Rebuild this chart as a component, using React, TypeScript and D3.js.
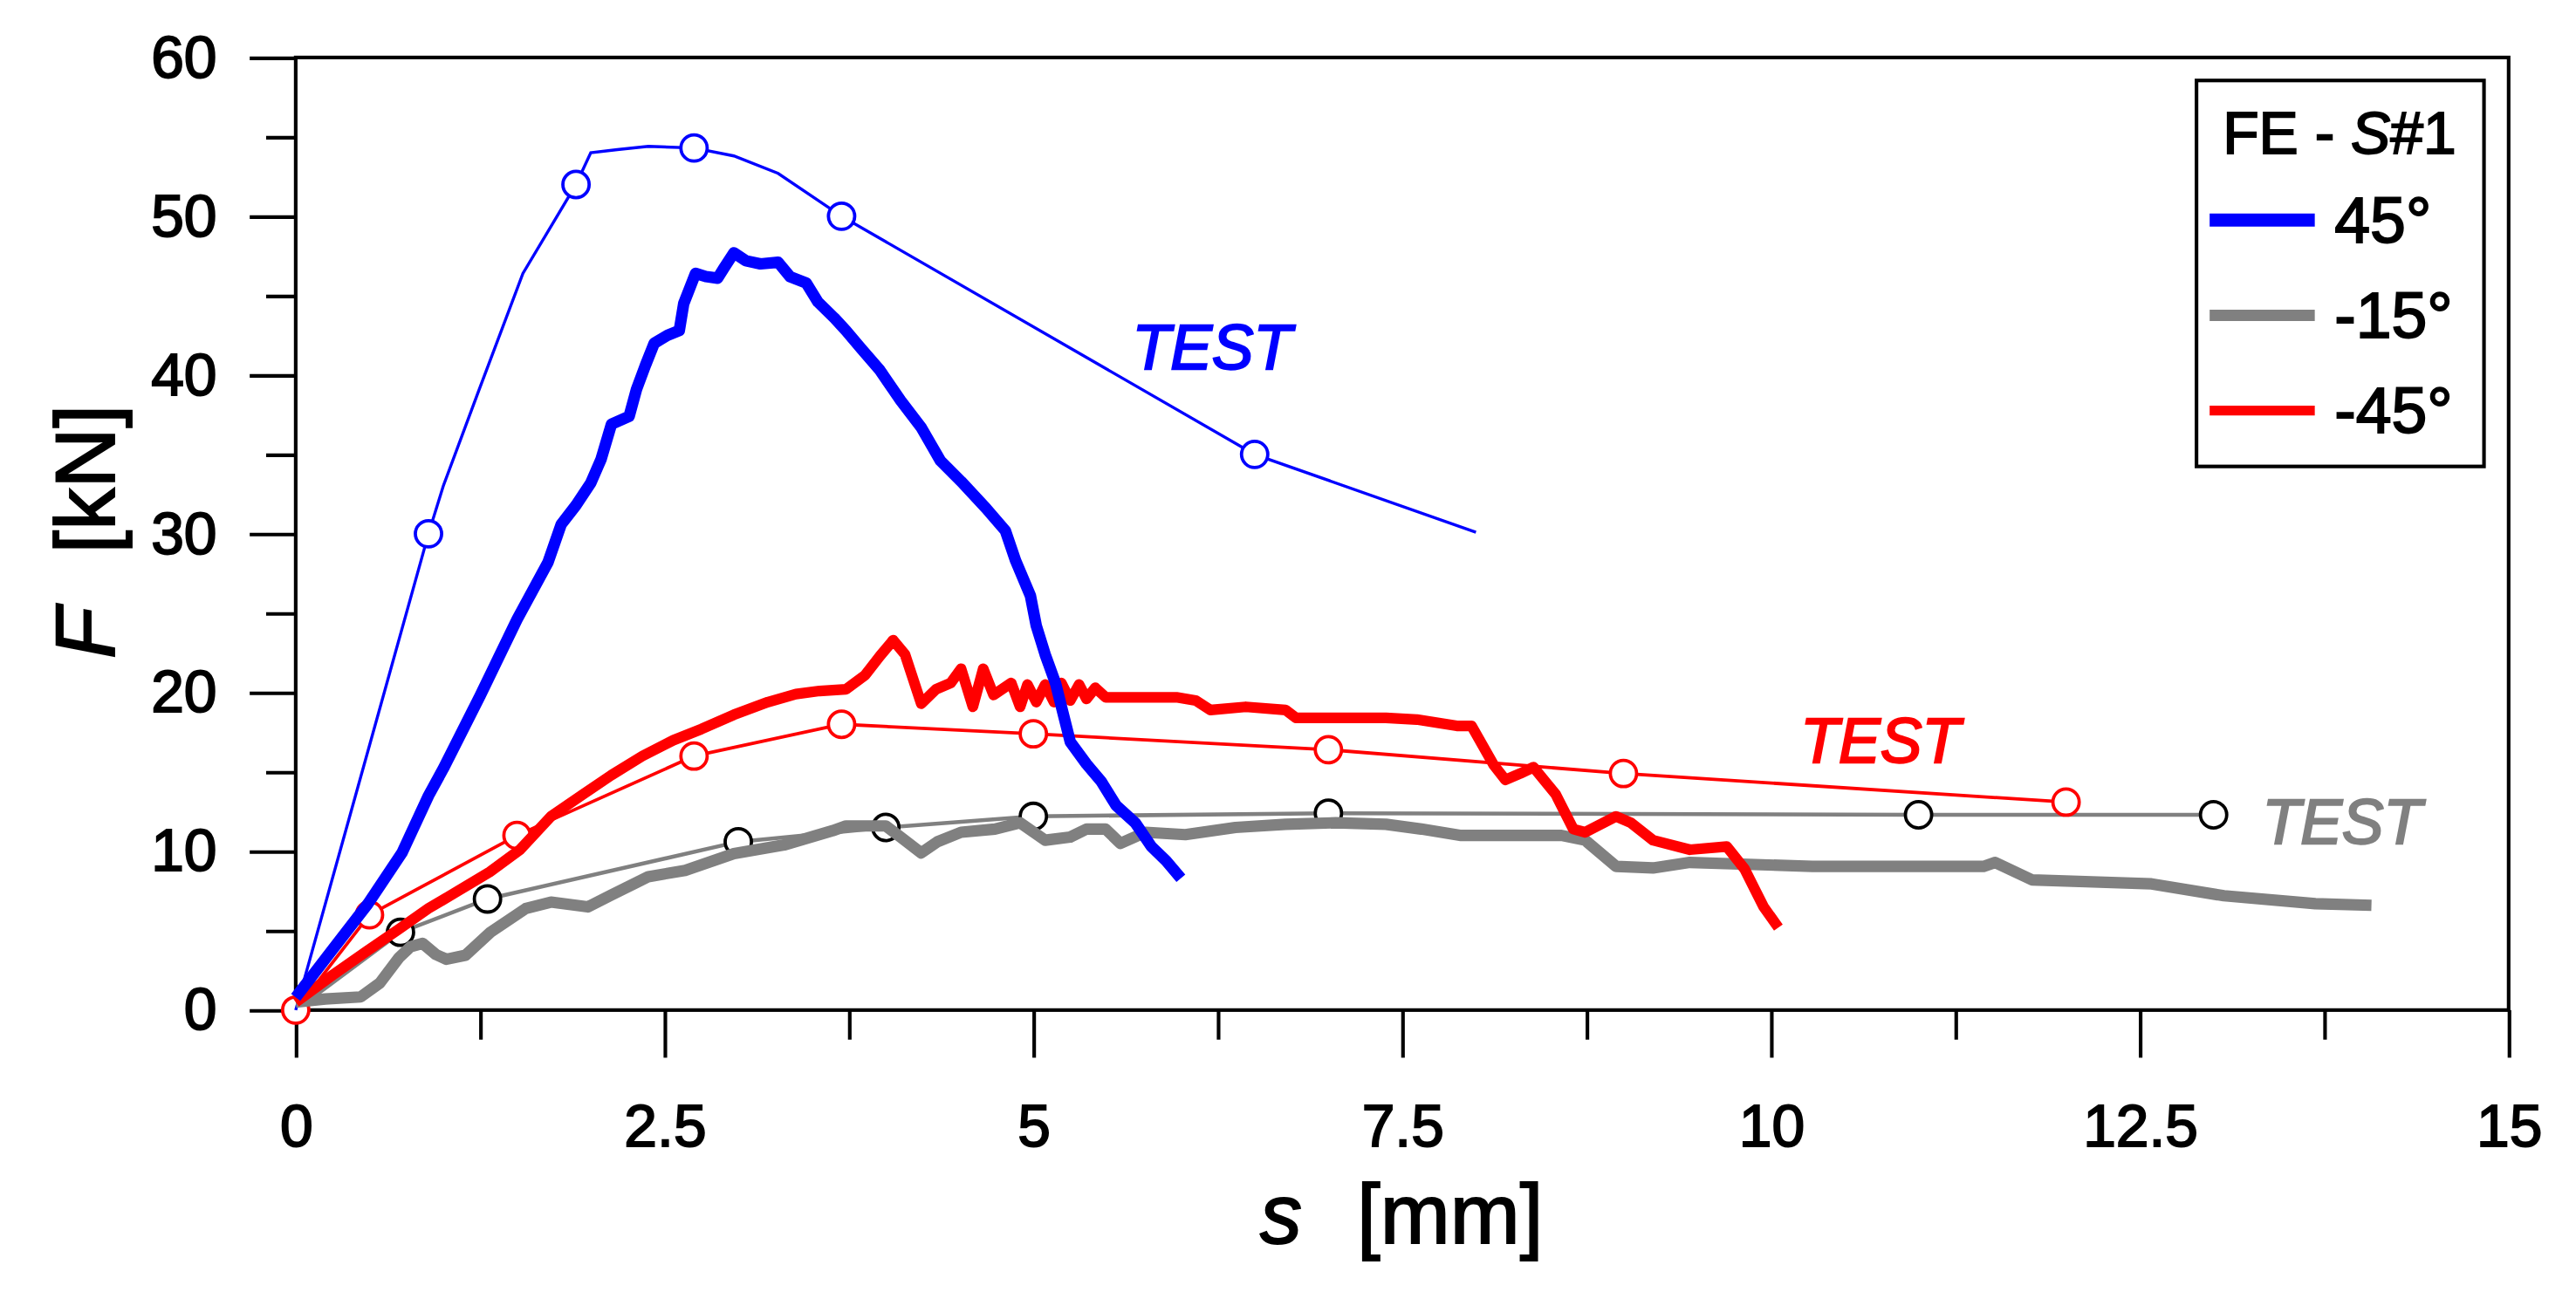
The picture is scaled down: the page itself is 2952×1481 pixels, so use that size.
import { useEffect, useRef } from "react"
import * as d3 from "d3"

type Pt = [number, number]

// FE curves (s [mm], F [kN])
const fe45: Pt[] = [
  [0, 0.8], [0.24, 3.7], [0.49, 6.7], [0.72, 9.9], [0.9, 13.5], [1.0, 15.2], [1.25, 19.8], [1.5, 24.6],
  [1.71, 28.2], [1.8, 30.6], [1.9, 31.8], [2.0, 33.2], [2.07, 34.7], [2.14, 36.9], [2.26, 37.4], [2.31, 39.1],
  [2.37, 40.6], [2.43, 42.0], [2.52, 42.5], [2.6, 42.8], [2.63, 44.5], [2.71, 46.4], [2.78, 46.2], [2.86, 46.1],
  [2.9, 46.7], [2.97, 47.7], [3.05, 47.2], [3.15, 47.0], [3.27, 47.1], [3.35, 46.2], [3.46, 45.8], [3.54, 44.6],
  [3.65, 43.6], [3.73, 42.8], [3.83, 41.7], [3.96, 40.3], [4.1, 38.4], [4.24, 36.7], [4.37, 34.6], [4.51, 33.3],
  [4.68, 31.6], [4.81, 30.2], [4.88, 28.3], [4.98, 26.1], [5.02, 24.2], [5.08, 22.4], [5.15, 20.6], [5.2, 18.75],
  [5.25, 16.9], [5.36, 15.5], [5.46, 14.4], [5.56, 12.9], [5.69, 11.8], [5.8, 10.3], [5.9, 9.4], [6.0, 8.3],
]

const feM15: Pt[] = [
  [0, 0.5], [0.2, 0.7], [0.44, 0.83], [0.57, 1.7], [0.7, 3.3], [0.78, 4.0], [0.86, 4.2], [0.95, 3.5],
  [1.02, 3.2], [1.15, 3.45], [1.32, 4.9], [1.56, 6.4], [1.73, 6.8], [1.98, 6.5], [2.14, 7.25], [2.39, 8.4],
  [2.64, 8.8], [2.97, 9.85], [3.31, 10.4], [3.64, 11.3], [3.73, 11.6], [4.0, 11.6], [4.1, 10.9], [4.24, 9.9],
  [4.35, 10.6], [4.51, 11.2], [4.74, 11.4], [4.91, 11.8], [5.08, 10.7], [5.25, 10.9], [5.36, 11.4], [5.49, 11.4],
  [5.59, 10.5], [5.76, 11.2], [6.03, 11.05], [6.37, 11.5], [6.71, 11.7], [7.05, 11.8], [7.39, 11.7], [7.63, 11.4],
  [7.9, 11.0], [8.58, 11.0], [8.74, 10.7], [8.95, 9.05], [9.2, 8.95], [9.45, 9.3], [10.28, 9.05], [11.44, 9.05],
  [11.52, 9.3], [11.77, 8.2], [12.58, 7.95], [13.07, 7.2], [13.69, 6.7], [14.07, 6.6],
]

const feM45: Pt[] = [
  [0, 0.5], [0.25, 2.2], [0.48, 3.7], [0.7, 5.1], [0.9, 6.4], [1.1, 7.5], [1.315, 8.7], [1.52, 10.1],
  [1.73, 12.2], [1.95, 13.6], [2.14, 14.8], [2.35, 16.0], [2.56, 17.0], [2.75, 17.7], [2.97, 18.6], [3.2, 19.4],
  [3.39, 19.9], [3.55, 20.1], [3.73, 20.2], [3.86, 21.1], [3.96, 22.3], [4.05, 23.3], [4.13, 22.4], [4.24, 19.3],
  [4.34, 20.2], [4.44, 20.6], [4.51, 21.5], [4.59, 19.1], [4.66, 21.5], [4.73, 19.85], [4.85, 20.6], [4.91, 19.1],
  [4.96, 20.5], [5.02, 19.4], [5.08, 20.5], [5.14, 19.4], [5.19, 20.6], [5.25, 19.5], [5.31, 20.5], [5.36, 19.6],
  [5.42, 20.3], [5.49, 19.7], [5.97, 19.7], [6.1, 19.5], [6.2, 18.9], [6.44, 19.1], [6.71, 18.9], [6.78, 18.4],
  [7.39, 18.4], [7.6, 18.3], [7.87, 17.9], [7.97, 17.9], [8.12, 15.45], [8.2, 14.5], [8.3, 14.9], [8.39, 15.3],
  [8.54, 13.6], [8.66, 11.4], [8.74, 11.2], [8.95, 12.2], [9.05, 11.8], [9.2, 10.7], [9.45, 10.1], [9.7, 10.3],
  [9.82, 8.9], [9.95, 6.5], [10.05, 5.2],
]

// TEST curves
const test45: Pt[] = [
  [0, 0], [0.9, 30], [1.0, 33], [1.24, 39], [1.54, 46.4], [1.9, 52], [2.0, 54], [2.18, 54.2], [2.39, 54.4],
  [2.7, 54.3], [2.97, 53.8], [3.27, 52.7], [3.7, 50], [6.5, 35], [8.0, 30.1],
]
const test45Marks: Pt[] = [[0.9, 30], [1.9, 52], [2.7, 54.3], [3.7, 50], [6.5, 35]]

const testM15: Pt[] = [
  [0, 0], [0.71, 4.9], [1.3, 7], [3, 10.6], [4, 11.5], [5, 12.2], [7, 12.4], [11, 12.3], [13, 12.3],
]
const testM15Marks: Pt[] = [[0.71, 4.9], [1.3, 7], [3, 10.6], [4, 11.5], [5, 12.2], [7, 12.4], [11, 12.3], [13, 12.3]]

const testM45: Pt[] = [
  [0, 0], [0.5, 6], [1.5, 11], [2.7, 16], [3.7, 18], [5, 17.4], [7, 16.4], [9, 14.9], [12, 13.1],
]
const testM45Marks: Pt[] = testM45

const xTicks = [0, 2.5, 5, 7.5, 10, 12.5, 15]
const xMinorTicks = [1.25, 3.75, 6.25, 8.75, 11.25, 13.75]
const yTicks = [0, 10, 20, 30, 40, 50, 60]
const yMinorTicks = [5, 15, 25, 35, 45, 55]

const legendTitle = "FE - S#1"
const legendLabels = ["45°", "-15°", "-45°"]
const testLabels: { text: string; s: number; f: number; color: string }[] = [
  { text: "TEST", s: 5.67, f: 40.4, color: "#0000ff" },
  { text: "TEST", s: 10.2, f: 15.6, color: "#ff0000" },
  { text: "TEST", s: 13.33, f: 10.5, color: "#808080" },
]

const BLUE = "#0000ff"
const RED = "#ff0000"
const GRAY = "#808080"
const FONT = "'Liberation Sans', Arial, sans-serif"

const W = 2952
const H = 1481
const K = W / 1568
const VH = H / K

export default function App() {
  const svgRef = useRef<SVGSVGElement>(null)

  useEffect(() => {
    if (!svgRef.current) return
    const svg = d3.select(svgRef.current)
    svg.selectAll("*").remove()

    const left = 180, right = 1527, top = 35, bottom = 615
    const x = d3.scaleLinear().domain([0, 15]).range([left, right])
    const y = d3.scaleLinear().domain([0, 60]).range([bottom, top])

    svg.append("rect").attr("width", 1568).attr("height", VH).attr("fill", "#fff")

    const g = svg.append("g")

    const styleAxis = (sel: d3.Selection<SVGGElement, unknown, null, undefined>) => {
      sel.select(".domain").remove()
      sel.selectAll("line").attr("stroke", "#000").attr("stroke-width", 2.2)
      sel.selectAll("text")
        .attr("font-family", FONT)
        .attr("font-size", 36)
        .attr("fill", "#000")
        .attr("stroke", "#000")
        .attr("stroke-width", 1)
    }

    // x axis
    g.append("g")
      .attr("transform", `translate(0,${bottom})`)
      .call(d3.axisBottom(x).tickValues(xTicks).tickSize(29).tickPadding(28.4).tickFormat((d) => String(d)))
      .call(styleAxis)
    g.append("g")
      .attr("transform", `translate(0,${bottom})`)
      .call(d3.axisBottom(x).tickValues(xMinorTicks).tickSize(18).tickFormat(() => ""))
      .call(styleAxis)

    // y axis
    g.append("g")
      .attr("transform", `translate(${left},0)`)
      .call(d3.axisLeft(y).tickValues(yTicks).tickSize(28).tickPadding(20).tickFormat((d) => String(d)))
      .call(styleAxis)
    g.append("g")
      .attr("transform", `translate(${left},0)`)
      .call(d3.axisLeft(y).tickValues(yMinorTicks).tickSize(18).tickFormat(() => ""))
      .call(styleAxis)

    // frame
    g.append("rect")
      .attr("x", left)
      .attr("y", top)
      .attr("width", right - left)
      .attr("height", bottom - top)
      .attr("fill", "none")
      .attr("stroke", "#000")
      .attr("stroke-width", 2.2)

    const line = d3.line<Pt>().x((d) => x(d[0])).y((d) => y(d[1]))

    const drawTest = (data: Pt[], marks: Pt[], lineColor: string, markColor: string, width: number) => {
      g.append("path")
        .attr("d", line(data))
        .attr("fill", "none")
        .attr("stroke", lineColor)
        .attr("stroke-width", width)
      g.append("g")
        .selectAll("circle")
        .data(marks)
        .enter()
        .append("circle")
        .attr("cx", (d) => x(d[0]))
        .attr("cy", (d) => y(d[1]))
        .attr("r", 8)
        .attr("fill", "#fff")
        .attr("stroke", markColor)
        .attr("stroke-width", 2)
    }

    drawTest(testM15, testM15Marks, GRAY, "#000", 2.4)
    drawTest(testM45, testM45Marks, RED, RED, 2)
    drawTest(test45, test45Marks, BLUE, BLUE, 1.8)

    const drawFe = (data: Pt[], color: string, width: number) => {
      g.append("path")
        .attr("d", line(data))
        .attr("fill", "none")
        .attr("stroke", color)
        .attr("stroke-width", width)
        .attr("stroke-linejoin", "round")
        .attr("stroke-linecap", "butt")
    }
    drawFe(feM15, GRAY, 7)
    drawFe(feM45, RED, 6.5)
    drawFe(fe45, BLUE, 7)

    // TEST labels
    g.selectAll(".test-label")
      .data(testLabels)
      .enter()
      .append("text")
      .attr("class", "test-label")
      .attr("x", (d) => x(d.s))
      .attr("y", (d) => y(d.f))
      .attr("font-family", FONT)
      .attr("font-style", "italic")
      .attr("font-size", 38)
      .attr("fill", (d) => d.color)
      .attr("stroke", (d) => d.color)
      .attr("stroke-width", 1.2)
      .text((d) => d.text)

    // axis titles
    const xTitle = g.append("text")
      .attr("y", 757)
      .attr("font-family", FONT)
      .attr("font-size", 51)
      .attr("fill", "#000")
      .attr("stroke", "#000")
      .attr("stroke-width", 1)
    xTitle.append("tspan").attr("x", 767).attr("font-style", "italic").text("s")
    xTitle.append("tspan").attr("x", 826).text("[mm]")

    const yTitle = g.append("text")
      .attr("transform", "translate(69.4,0) rotate(-90)")
      .attr("font-family", FONT)
      .attr("font-size", 51)
      .attr("fill", "#000")
      .attr("stroke", "#000")
      .attr("stroke-width", 1)
    yTitle.append("tspan").attr("x", -401).attr("font-style", "italic").text("F")
    yTitle.append("tspan").attr("x", -337).text("[kN]")

    // legend
    const lg = g.append("g")
    lg.append("rect")
      .attr("x", 1337)
      .attr("y", 49)
      .attr("width", 175)
      .attr("height", 235)
      .attr("fill", "#fff")
      .attr("stroke", "#000")
      .attr("stroke-width", 2.2)
    const title = lg.append("text")
      .attr("x", 1353)
      .attr("y", 93.5)
      .attr("font-family", FONT)
      .attr("font-size", 36)
      .attr("fill", "#000")
      .attr("stroke", "#000")
      .attr("stroke-width", 1)
    const [pre, post] = legendTitle.split("S")
    title.append("tspan").text(pre)
    title.append("tspan").attr("font-style", "italic").text("S")
    title.append("tspan").text(post)

    const legendColors = [BLUE, GRAY, RED]
    const legendWidths = [8, 7, 6]
    const rowY = [134, 192, 250]
    legendLabels.forEach((label, i) => {
      lg.append("line")
        .attr("x1", 1345)
        .attr("x2", 1409)
        .attr("y1", rowY[i])
        .attr("y2", rowY[i])
        .attr("stroke", legendColors[i])
        .attr("stroke-width", legendWidths[i])
      lg.append("text")
        .attr("x", 1421)
        .attr("y", rowY[i] + 13.5)
        .attr("font-family", FONT)
        .attr("font-size", 39)
        .attr("fill", "#000")
        .attr("stroke", "#000")
        .attr("stroke-width", 1)
        .text(label)
    })
  }, [])

  return (
    <svg
      ref={svgRef}
      width={W}
      height={H}
      viewBox={`0 0 1568 ${VH}`}
      style={{ position: "absolute", left: 0, top: 0, display: "block" }}
    />
  )
}
